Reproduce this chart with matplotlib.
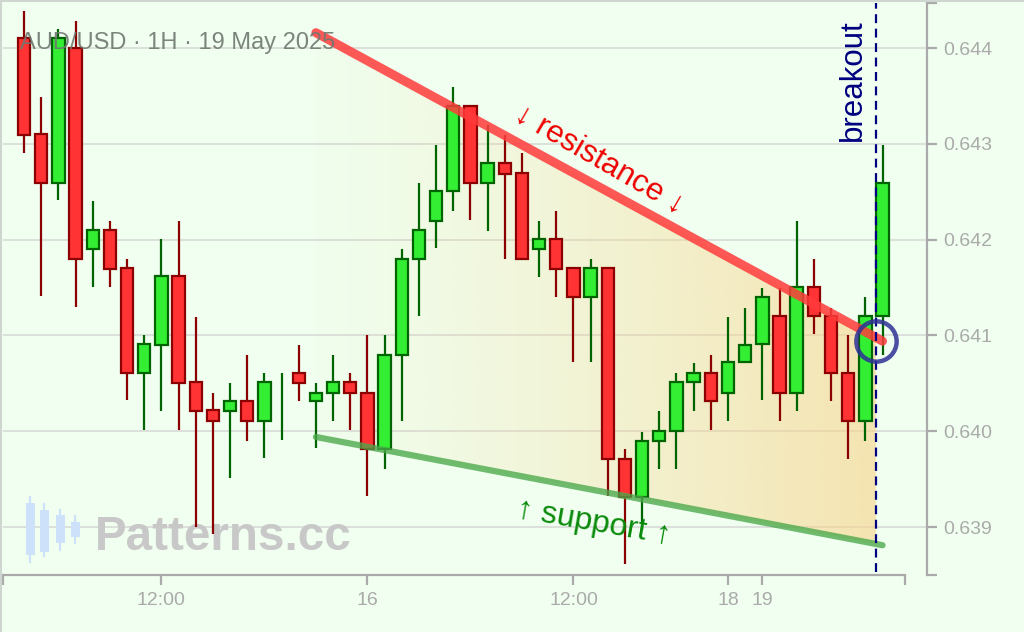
import numpy as np
import matplotlib
matplotlib.use('Agg')
import matplotlib.pyplot as plt
from matplotlib.patches import Polygon, Rectangle
from matplotlib.lines import Line2D

plt.rcParams['font.family'] = ['Liberation Sans', 'DejaVu Sans']

# hourly candles, AUD/USD
opens = [0.64410, 0.64310, 0.64259, 0.64400, 0.64190, 0.64210, 0.64170, 0.64061, 0.64090, 0.64162,
         0.64051, 0.64022, 0.64021, 0.64032, 0.64011, 0.64030, 0.64061, 0.64032, 0.64040, 0.64051,
         0.64040, 0.63981, 0.64080, 0.64180, 0.64219, 0.64251, 0.64339, 0.64259, 0.64280, 0.64270,
         0.64190, 0.64201, 0.64170, 0.64140, 0.64170, 0.63971, 0.63931, 0.63990, 0.64000, 0.64051,
         0.64061, 0.64040, 0.64072, 0.64091, 0.64120, 0.64040, 0.64151, 0.64120, 0.64061, 0.64011,
         0.64120]
highs = [0.64439, 0.64349, 0.64420, 0.64428, 0.64240, 0.64219, 0.64180, 0.64100, 0.64201, 0.64219,
         0.64119, 0.64040, 0.64050, 0.64080, 0.64061, 0.64061, 0.64090, 0.64050, 0.64080, 0.64061,
         0.64100, 0.64100, 0.64190, 0.64259, 0.64299, 0.64359, 0.64340, 0.64320, 0.64309, 0.64290,
         0.64219, 0.64230, 0.64170, 0.64180, 0.64170, 0.63981, 0.63999, 0.64021, 0.64061, 0.64071,
         0.64080, 0.64119, 0.64129, 0.64150, 0.64150, 0.64219, 0.64180, 0.64129, 0.64100, 0.64140,
         0.64299]
lows = [0.64290, 0.64141, 0.64241, 0.64130, 0.64151, 0.64151, 0.64033, 0.64001, 0.64021, 0.64001,
        0.63900, 0.63893, 0.63951, 0.63990, 0.63972, 0.63991, 0.64032, 0.63982, 0.64011, 0.64001,
        0.63932, 0.63961, 0.64011, 0.64120, 0.64191, 0.64230, 0.64220, 0.64209, 0.64180, 0.64180,
        0.64161, 0.64140, 0.64072, 0.64072, 0.63932, 0.63861, 0.63897, 0.63961, 0.63961, 0.64021,
        0.64001, 0.64011, 0.64072, 0.64033, 0.64011, 0.64021, 0.64101, 0.64032, 0.63971, 0.63990,
        0.64080]
closes = [0.64309, 0.64259, 0.64410, 0.64180, 0.64210, 0.64169, 0.64061, 0.64091, 0.64162, 0.64050,
          0.64021, 0.64011, 0.64032, 0.64011, 0.64051, 0.64030, 0.64050, 0.64040, 0.64051, 0.64040,
          0.63981, 0.64080, 0.64180, 0.64210, 0.64251, 0.64339, 0.64259, 0.64280, 0.64269, 0.64180,
          0.64201, 0.64169, 0.64140, 0.64170, 0.63971, 0.63931, 0.63990, 0.64000, 0.64051, 0.64061,
          0.64032, 0.64072, 0.64090, 0.64140, 0.64040, 0.64151, 0.64120, 0.64061, 0.64011, 0.64120,
          0.64259]

tick_pos = [8, 20, 32, 41, 43]
tick_labels = ['12:00', '16', '12:00', '18', '19']
price_ticks = [0.639, 0.640, 0.641, 0.642, 0.643, 0.644]

# wedge lines
res_x = [17, 50]
res_y = [0.64416, 0.64094]
sup_x = [17, 50]
sup_y = [0.63994, 0.63881]
breakout_x = 49.62
breakout_price = 0.64094

fig = plt.figure(figsize=(10.24, 6.32), dpi=100, facecolor='#f0fff0')
ax = fig.add_axes([3 / 1024, 57 / 632, 924 / 1024, 572 / 632])
ax.set_facecolor('none')
x_lo, x_hi = -1.223, 52.59
y_lo, y_hi = 0.638499, 0.644470
ax.set_xlim(x_lo, x_hi)
ax.set_ylim(y_lo, y_hi)

# figure border on top and left
fig.add_artist(Line2D([0, 1], [0.999, 0.999], color='#cfd6cf', lw=1.5, transform=fig.transFigure))
fig.add_artist(Line2D([0.0008, 0.0008], [0, 1], color='#cfd6cf', lw=1.5, transform=fig.transFigure))

# grid
for p in price_ticks:
    ax.axhline(p, color='#d9ddd9', lw=1.3, zorder=0)

# gradient fill inside the wedge
xs = np.array([res_x[0], breakout_x])
top = np.interp(xs, res_x, res_y)
bot = np.interp(xs, sup_x, sup_y)
poly = Polygon([(xs[0], top[0]), (xs[1], top[1]), (xs[1], bot[1]), (xs[0], bot[0])],
               closed=True, facecolor='none', edgecolor='none')
ax.add_patch(poly)
t = np.linspace(0, 1, 256)
grad = np.zeros((2, 256, 4))
grad[..., 0] = 248 / 255
grad[..., 1] = 212 / 255
grad[..., 2] = 140 / 255
grad[..., 3] = 0.03 + 0.6 * t ** 1.2
im = ax.imshow(grad, extent=[xs[0], xs[1], y_lo, y_hi], aspect='auto', origin='lower', zorder=1)
im.set_clip_path(poly)

# candles
idx = np.arange(len(opens))
o = np.array(opens)
c = np.array(closes)
up = c >= o
body_col = np.where(up, '#33ee33', '#ff3333')
edge_col = np.where(up, '#006400', '#8b0000')
ax.vlines(idx, lows, highs, colors=edge_col, lw=1.6, zorder=3)
heights = np.abs(c - o)
lws = np.where(heights > 0, 1.6, 0)
ax.bar(idx, heights, bottom=np.minimum(o, c), width=0.72, color=body_col,
       edgecolor=edge_col, linewidth=lws, zorder=4)

# resistance and support
ax.plot(res_x, res_y, color='#ff3b3b', alpha=0.85, lw=6.5, solid_capstyle='round', zorder=5)
ax.plot(sup_x, sup_y, color='#4aa84a', alpha=0.78, lw=4.5, solid_capstyle='round', zorder=5)
ax.text(33.5, 0.64283, '↓ resistance ↓', color='#ee0000', fontsize=22.5, rotation=-30,
        rotation_mode='anchor', ha='center', va='center', zorder=6)
ax.text(33.2, 0.63904, '↑ support ↑', color='#0a8a0a', fontsize=23, rotation=-10,
        rotation_mode='anchor', ha='center', va='center', zorder=6)

# breakout
ax.axvline(breakout_x, ymin=0.005, ymax=1.0, color='#000080', lw=1.6, ls=(0, (4, 2.5)), zorder=6)
ax.text(breakout_x - 0.45, y_hi - 0.00017, 'breakout', color='#000080', fontsize=22.5,
        rotation=90, ha='right', va='top', zorder=6)
ax.plot([breakout_x], [breakout_price], marker='o', ms=29, mfc='none', mec='#2e3196',
        mew=3.2, alpha=0.85, zorder=7)

# title and watermark
ax.text(0.0184, 0.9196, 'AUD/USD · 1H · 19 May 2025', transform=ax.transAxes, fontsize=17,
        color='#707870', alpha=0.9, ha='left', va='baseline', zorder=8)
ax.text(0.0996, 0.0437, 'Patterns.cc', transform=ax.transAxes, fontsize=34.3, fontweight='bold',
        color='#c8c8c8', ha='left', va='baseline', zorder=2)
logo_x = [30, 44, 60, 75]
logo_body = [(503, 555), (510, 552), (515, 543), (522, 537)]
logo_wick = [(497, 562), (504, 556), (510, 550), (516, 543)]
for lx, (bt, bb), (wt, wb) in zip(logo_x, logo_body, logo_wick):
    fig.add_artist(Line2D([lx / 1024, lx / 1024], [1 - wt / 632, 1 - wb / 632], color='#cde2fa',
                          lw=1.5, transform=fig.transFigure))
    fig.add_artist(Rectangle(((lx - 4.5) / 1024, 1 - bb / 632), 9 / 1024, (bb - bt) / 632,
                             facecolor='#cde2fa', edgecolor='none', transform=fig.transFigure))

# axes styling
for s in ['top', 'left']:
    ax.spines[s].set_visible(False)
ax.spines['bottom'].set_color('#aaaaaa')
ax.spines['right'].set_color('#aaaaaa')
ax.spines['bottom'].set_linewidth(1.6)
ax.spines['right'].set_linewidth(1.6)
ax.spines['bottom'].set_bounds(x_lo, 51.31)
ax.yaxis.tick_right()
ax.set_xticks(tick_pos)
ax.set_xticklabels(tick_labels)
ax.set_xticks([x_lo, 51.31], minor=True)
ax.set_yticks(price_ticks)
ax.set_yticklabels([f'{p:.3f}' for p in price_ticks])
ax.set_yticks([y_lo, y_hi], minor=True)
ax.tick_params(which='both', colors='#aaaaaa', length=7.5, width=1.6, labelsize=14,
               labelcolor='#aaaaaa', pad=4.5)
ax.tick_params(axis='y', which='both', right=True, left=False)

fig.savefig('out.png', dpi=100, facecolor=fig.get_facecolor())
